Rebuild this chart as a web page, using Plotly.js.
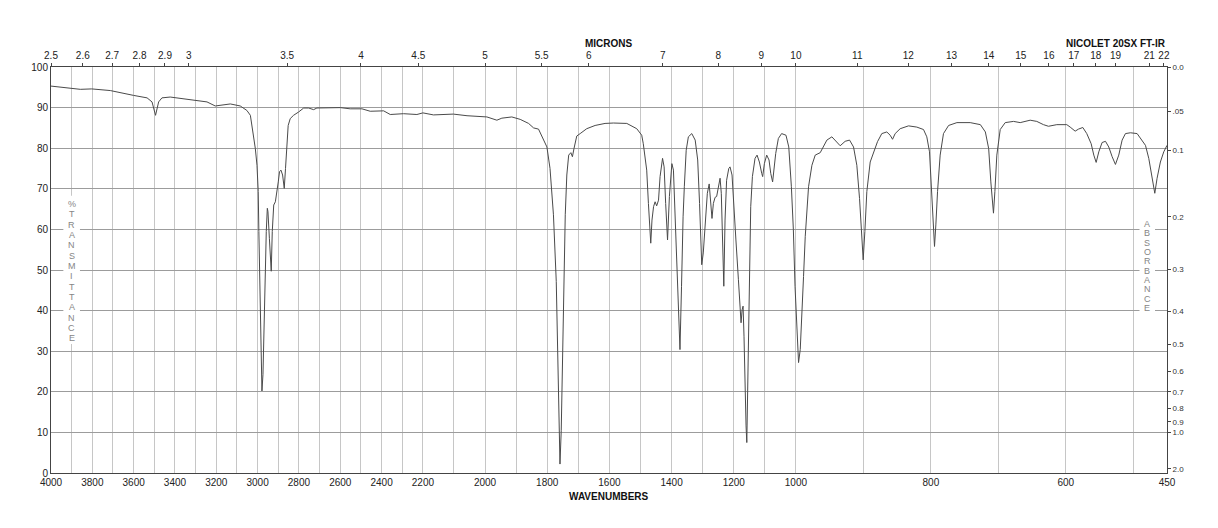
<!DOCTYPE html>
<html>
<head>
<meta charset="utf-8">
<script src="https://cdn.plot.ly/plotly-3.0.1.min.js"></script>
<style>html,body{margin:0;padding:0;background:#fff;}#chart{width:1218px;height:528px;}</style>
</head>
<body>
<div id="chart"></div>
<script>
// ---- Data ----
const wavenumber = [
4000,3906,3858,3803,3713,3600,3535,3511,3494,3479,3463,3423,3358,3310,3245,3205,3181,3132,3084,3052,3035,3023,3011,3003,2997,2994,2990,2987,2982,2979,2974,2969,2963,2958,2953,2950,2943,2939,2934,2929,2922,2914,2906,2900,2894,2887,2879,2871,2865,2858,2852,2842,2826,2802,2777,2753,2729,2713,2665,2600,2552,2495,2455,2390,2358,2294,2229,2200,2166,2102,2058,2005,
1994,1962,1946,1914,1887,1860,1844,1828,1818,1801,1791,1780,1771,1766,1762,1759,1755,1752,1748,1742,1737,1731,1724,1719,1714,1705,1694,1673,1646,1614,1587,1544,1512,1496,
1491,1480,1474.5,1469,1467,1463,1458,1453,1448,1442,1437,1429,1424,1419,1413,1407,1399,1394,1389,1383,1378,1373,1368,1365,1363,1359,1353,1346,1335,1324,1316,1310,1306,1303,1298,1291,1285,1279,1274,1270,1265.5,1260,1255,1249,1244,1240,1235.5,1232,1228,1223,1216,1212,1205.5,1199,1193,1185,1180,1176.5,1173,1170,1167,1164,1160.4,1158,1156,1153,1150,1145.4,1140,1131.5,1125,1117.5,1110,1107,1101.5,1094,1086.5,1081,1075,1070.4,1065,1056.5,1046,1032,1023,1014.6,1008.2,1002.9,
998.6,996.1,993.6,991.2,988.7,986.2,981.3,976.3,971.4,964.0,959.1,954.1,946.7,934.4,927.0,920.5,914.6,909.7,905.7,902.8,900.3,897.8,894.9,889.9,885.0,879.1,872.7,865.3,860.3,856.8,852.9,845.5,833.1,820.8,810.9,806.0,802.0,798.6,796.1,794.6,792.6,790.1,786.2,781.3,773.7,761.4,741.7,726.6,719.2,714.3,711.1,708.6,707.2,705.1,702.2,697.2,689.8,677.5,667.6,652.8,643.0,633.1,625.7,613.3,598.5,593.5,586.1,581.2,574.8,568.9,562.4,558.5,555.0,551.1,546.2,541.2,536.3,531.3,526.4,521.5,516.5,511.6,504.2,494.3,486.9,481.9,477.0,472.1,468.1,464.7,459.8,454.8,450.0
];
const transmittance = [
95.3,94.8,94.5,94.6,94.2,93.0,92.4,91.4,88.1,91.4,92.4,92.6,92.2,91.9,91.4,90.4,90.6,90.9,90.4,89.3,88.1,84.0,79.9,75.8,69.3,59.5,49.7,34.9,23.5,20.2,24.3,36.6,51.3,59.5,65.2,64.4,57.8,52.9,49.7,59.5,66.0,66.8,69.3,71.7,74.2,74.6,73.4,70.1,75.0,81.6,85.6,87.3,88.1,88.9,89.9,89.9,89.5,89.9,89.9,90.0,89.7,89.7,89.1,89.2,88.3,88.5,88.3,88.7,88.2,88.4,88.0,87.7,
87.7,86.9,87.4,87.7,87.1,86.1,85.0,84.7,83.2,80.3,75.0,63.6,47.2,30.8,14.5,2.2,10.4,22.7,43.1,63.6,73.4,78.3,78.9,77.9,79.9,83.0,83.6,84.8,85.6,86.1,86.2,86.1,84.8,83.2,
81.1,74.6,66.4,58.2,56.6,62.3,65.6,66.8,65.8,67.2,73.0,77.5,75.4,66.4,57.4,68.1,76.2,74.6,64.0,51.7,39.4,30.4,46.0,62.3,63.1,70.5,79.5,82.8,83.6,82.0,77.1,66.4,55.8,51.3,54.2,62.3,68.9,71.2,67.2,62.7,66.4,67.9,68.1,70.5,72.6,68.9,58.2,46.0,62.3,72.1,75.0,75.4,73.4,66.4,57.4,47.6,40.2,37.0,40.2,41.1,33.7,21.4,11.6,7.5,17.3,37.8,54.2,65.6,73.0,77.5,78.3,76.6,73.8,73.0,76.2,78.3,77.1,73.8,71.7,74.6,78.7,82.4,83.6,83.2,80.3,70.5,59.9,46.0,
33.7,27.2,30.4,37.8,48.4,58.2,70.5,75.8,78.3,78.9,80.3,82.0,82.8,80.6,81.7,82.0,80.3,75.8,67.6,59.5,52.5,59.5,69.3,76.6,78.9,81.6,83.6,84.0,83.2,82.2,83.6,84.8,85.5,85.2,84.6,82.8,79.1,69.3,61.9,55.8,61.1,69.3,78.3,83.6,85.6,86.3,86.3,85.8,84.0,79.9,71.7,66.0,64.0,69.3,78.3,84.6,86.3,86.6,86.3,86.9,86.6,85.8,85.4,85.8,85.8,85.2,84.2,84.7,85.1,83.6,81.1,78.3,76.5,79.1,81.4,81.7,80.3,77.9,76.0,78.3,82.0,83.6,83.8,83.6,82.0,80.7,77.5,72.6,68.9,72.6,76.6,79.1,80.7
];
const wavenumberLabels = [4000,3800,3600,3400,3200,3000,2800,2600,2400,2200,2000,1800,1600,1400,1200,1000,800,600,450];
const wavenumberGrid = [4000,3900,3800,3700,3600,3500,3400,3300,3200,3100,3000,2900,2800,2700,2600,2500,2400,2300,2200,2100,2000,1900,1800,1700,1600,1500,1400,1300,1200,1100,1000,900,800,700,600,500,450];
const micronTicks = [2.5,2.6,2.7,2.8,2.9,3,3.5,4,4.5,5,5.5,6,7,8,9,10,11,12,13,14,15,16,17,18,19,21,22];
const absorbanceTicks = [0,0.05,0.1,0.2,0.3,0.4,0.5,0.6,0.7,0.8,0.9,1.0,2.0];
const absorbanceLabels = ['0.0','.05','0.1','0.2','0.3','0.4','0.5','0.6','0.7','0.8','0.9','1.0','2.0'];
const transmittanceTicks = [0,10,20,30,40,50,60,70,80,90,100];

// ---- Piecewise-linear wavenumber scale of the chart paper ----
function pos(nu){
  if (nu >= 2200) return (4000 - nu) * 0.2067;
  if (nu >= 1000) return (4000-2200)*0.2067 + (2200 - nu) * 0.311;
  return (4000-2200)*0.2067 + 1200*0.311 + (1000 - nu) * 0.675;
}
const xMax = pos(450);

const gridSet = wavenumberGrid.map(pos);
const gridText = wavenumberGrid.map(v => wavenumberLabels.includes(v) ? String(v) : '');

const FONT = 'Liberation Sans, Arial, Helvetica, sans-serif';

const traces = [
  {x: wavenumber.map(pos), y: transmittance, type:'scatter', mode:'lines',
   line:{color:'#4a4a4a', width:1}, hoverinfo:'skip', xaxis:'x', yaxis:'y'},
  {x:[0, xMax], y:[100,100], type:'scatter', mode:'lines', line:{width:0}, opacity:0,
   hoverinfo:'skip', xaxis:'x2', yaxis:'y2'}
];

const annotations = [
  {text:'<b>MICRONS</b>', xref:'paper', yref:'paper', x:0.5, y:1.057, xanchor:'center', yanchor:'middle', showarrow:false, font:{family:FONT, size:10, color:'#111'}},
  {text:'<b>NICOLET 20SX FT-IR</b>', xref:'paper', yref:'paper', x:1.001, y:1.057, xanchor:'right', yanchor:'middle', showarrow:false, font:{family:FONT, size:10, color:'#111'}},
  {text:'<b>WAVENUMBERS</b>', xref:'paper', yref:'paper', x:0.5, y:-0.058, xanchor:'center', yanchor:'middle', showarrow:false, font:{family:FONT, size:10, color:'#111'}}
];
const leftWord = '%TRANSMITTANCE'.split('');
leftWord.forEach((ch, i) => {
  annotations.push({text:ch, xref:'x', yref:'y', x:pos(3900), y:66.3 - i*(33.1/13), xanchor:'center', yanchor:'middle', showarrow:false, font:{family:FONT, size:9, color:'#858585'}});
});
const rightWord = 'ABSORBANCE'.split('');
rightWord.forEach((ch, i) => {
  annotations.push({text:ch, xref:'paper', yref:'y', x:(1147.3-51)/1116, y:61.3 - i*(20.7/9), xanchor:'center', yanchor:'middle', showarrow:false, font:{family:FONT, size:9, color:'#858585'}});
});

const shapes = [
  {type:'rect', xref:'x', yref:'y', x0:pos(3900)-8.3, x1:pos(3900)+8.3, y0:31.8, y1:68.3, fillcolor:'#ffffff', line:{width:0}, layer:'above'},
  {type:'rect', xref:'paper', yref:'y', x0:(1139.5-51)/1116, x1:(1155-51)/1116, y0:38.8, y1:63.3, fillcolor:'#ffffff', line:{width:0}, layer:'above'}
];

const layout = {
  width:1218, height:528,
  margin:{l:51, r:51, t:67, b:55, pad:0},
  paper_bgcolor:'#ffffff', plot_bgcolor:'#ffffff',
  showlegend:false,
  font:{family:FONT, size:10, color:'#222'},
  xaxis:{range:[0, xMax], tickmode:'array', tickvals:gridSet, ticktext:gridText, tickangle:0,
         showgrid:true, gridcolor:'#c6c6c6', gridwidth:1, showline:true, linecolor:'#444', linewidth:1,
         ticks:'', zeroline:false, tickfont:{family:FONT, size:10, color:'#222'}, fixedrange:true},
  xaxis2:{range:[0, xMax], overlaying:'x', side:'top', anchor:'y', tickmode:'array',
          tickvals:micronTicks.map(m => pos(10000/m)), ticktext:micronTicks.map(String), tickangle:0,
          ticks:'outside', ticklen:3, tickcolor:'#444', showgrid:false, showline:true, linecolor:'#444',
          zeroline:false, tickfont:{family:FONT, size:10, color:'#222'}, fixedrange:true},
  yaxis:{range:[0,100], tickmode:'array', tickvals:transmittanceTicks, ticktext:transmittanceTicks.map(String),
         showgrid:true, gridcolor:'#9c9c9c', gridwidth:1, showline:true, linecolor:'#444', linewidth:1,
         ticks:'', zeroline:false, tickfont:{family:FONT, size:10, color:'#222'}, fixedrange:true},
  yaxis2:{range:[0,100], overlaying:'y', side:'right', anchor:'x', tickmode:'array',
          tickvals:absorbanceTicks.map(a => 100*Math.pow(10,-a)), ticktext:absorbanceLabels,
          ticks:'outside', ticklen:3, tickcolor:'#444', showgrid:false, showline:true, linecolor:'#444',
          zeroline:false, tickfont:{family:FONT, size:8, color:'#333'}, fixedrange:true},
  annotations: annotations,
  shapes: shapes
};

Plotly.newPlot('chart', traces, layout, {staticPlot:true, displayModeBar:false});
</script>
</body>
</html>
